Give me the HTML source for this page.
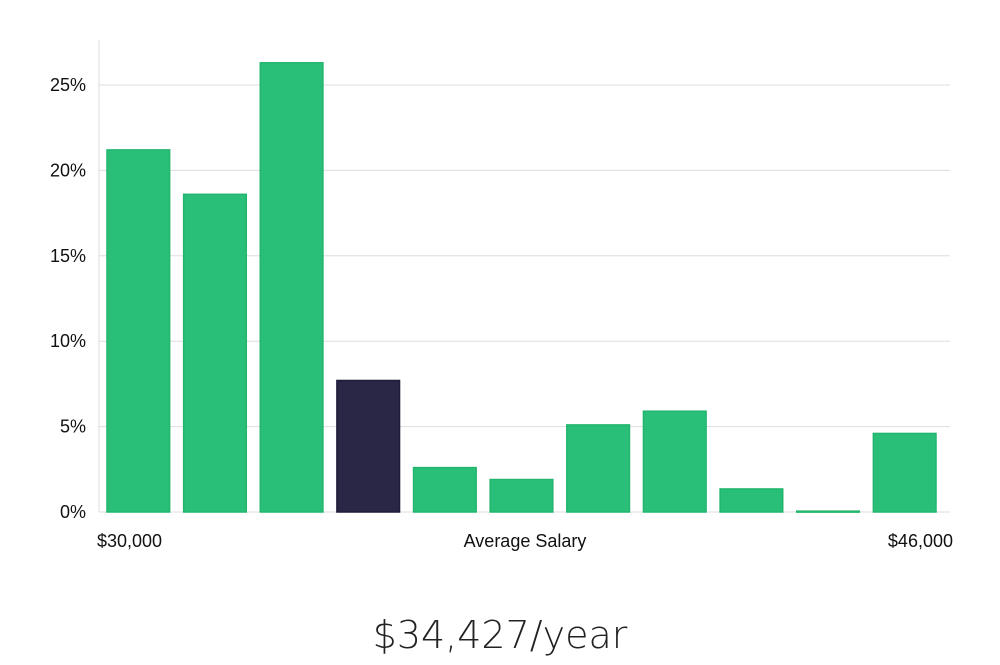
<!DOCTYPE html>
<html><head><meta charset="utf-8"><style>
body{margin:0;background:#fff;width:1000px;height:660px;overflow:hidden;font-family:"Liberation Sans","DejaVu Sans",sans-serif}
</style></head><body>
<svg id="chart" width="1000" height="660" xmlns="http://www.w3.org/2000/svg">
<g id="grid"></g><g id="bars"></g><g id="labels"></g>
<text x="500" y="648" text-anchor="middle" font-size="38" fill="#222" font-family="DejaVu Sans, sans-serif" font-weight="300">$34,427/year</text>
</svg>
<script>
const categories=["b1","b2","b3","b4","b5","b6","b7","b8","b9","b10","b11"];
const values=[21.2,18.6,26.3,7.7,2.6,1.9,5.1,5.9,1.35,0.05,4.6];
const highlight=[false,false,false,true,false,false,false,false,false,false,false];
const yTicks=[0,5,10,15,20,25];
const yTickLabels=["0%","5%","10%","15%","20%","25%"];
const xLabels=["$30,000","Average Salary","$46,000"];
const NS="http://www.w3.org/2000/svg";
const x0=99,x1=950,yBase=512,pxPer=85.4/5;
const y=v=>yBase-v*pxPer;
const step=(x1-x0-8)/categories.length;
const xb=i=>x0+8+i*step;
const bw=step-14;
function mk(t,a,p){const e=document.createElementNS(NS,t);for(const k in a)e.setAttribute(k,a[k]);p.appendChild(e);return e;}
const grid=document.getElementById('grid'),bars=document.getElementById('bars'),labels=document.getElementById('labels');
const ax=mk('line',{x1:x0,x2:x0,y1:40,y2:yBase,stroke:'#ddd'},grid);


yTicks.forEach((t,i)=>{
 const l=mk('line',{x1:x0,x2:x1,y1:y(t),y2:y(t),stroke:'#ddd'},grid);
 
 
 const tx=mk('text',{x:86,y:y(t)+6,'text-anchor':'end','font-size':18,fill:'#111'},labels);
 tx.textContent=yTickLabels[i];
 
 
});
values.forEach((v,i)=>{
 const r=mk('rect',{x:xb(i),y:y(v),width:bw,height:Math.max(1,yBase-y(v)),fill:highlight[i]?'#2a2646':'#2abf78',stroke:highlight[i]?'#1f1c38':'#22b56d','stroke-width':1.5},bars);
 
 
});
[[97,'start'],[525,'middle'],[953,'end']].forEach((p,i)=>{
 const t=mk('text',{x:p[0],y:547,'text-anchor':p[1],'font-size':18,fill:'#111'},labels);
 t.textContent=xLabels[i];
 
 
});
</script>
</body></html>
